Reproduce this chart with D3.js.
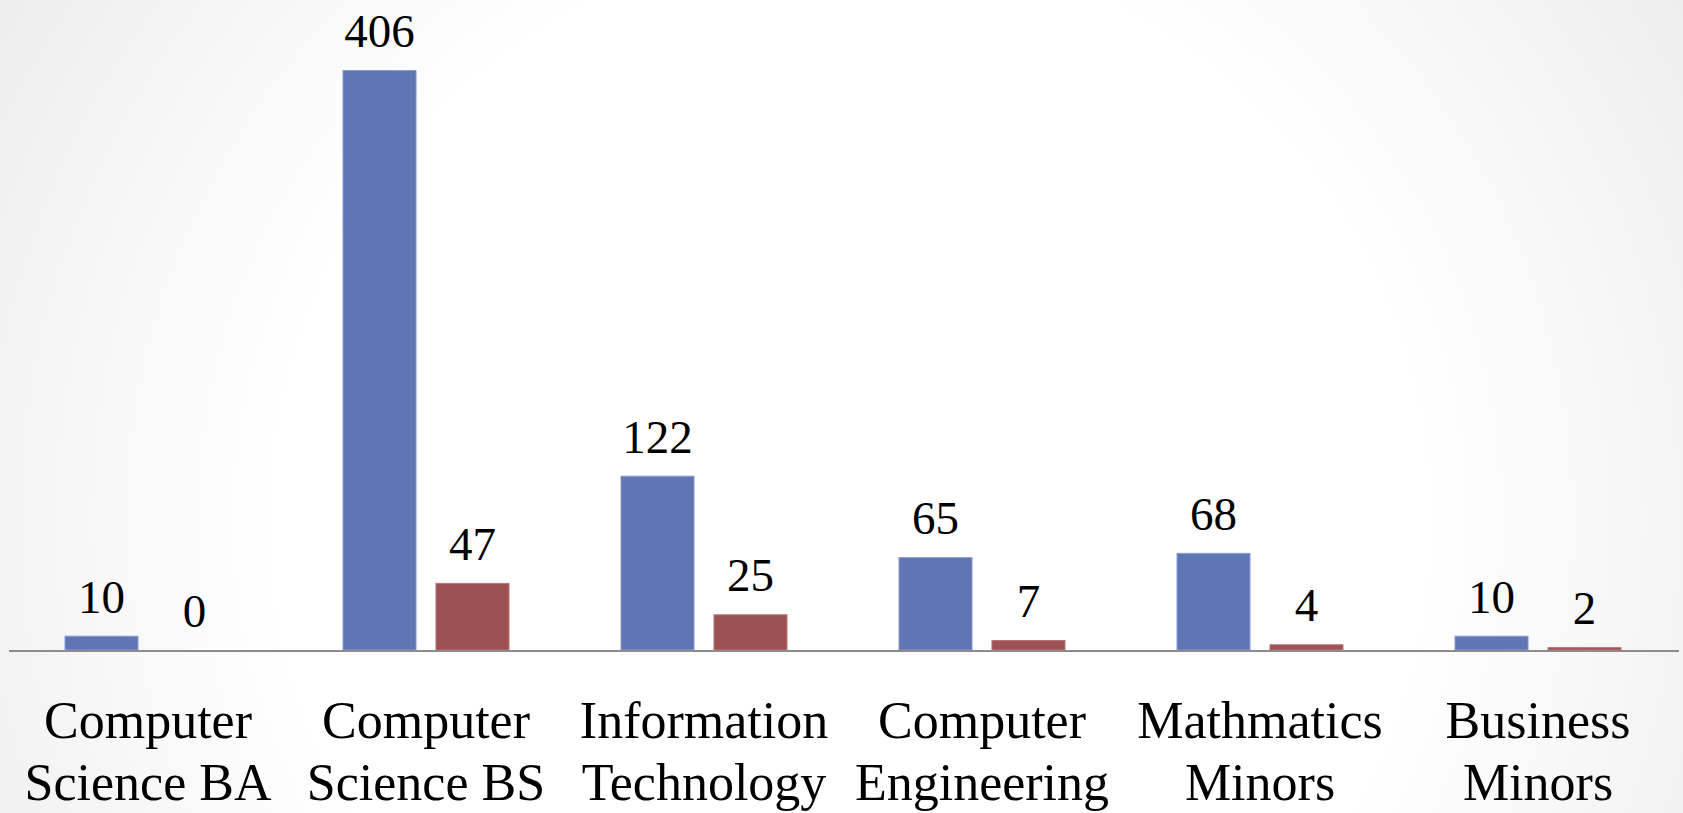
<!DOCTYPE html>
<html>
<head>
<meta charset="utf-8">
<script src="https://cdn.jsdelivr.net/npm/d3@7"></script>
<style>
	html, body { margin: 0; padding: 0; overflow: hidden; }
	svg { display: block; }
</style>
</head>
<body>
<div id="chart"></div>
<script>
// Grouped bar chart, 1683 x 813

const WIDTH = 1683;
const HEIGHT = 813;

const categories = [
	['Computer', 'Science BA'],
	['Computer', 'Science BS'],
	['Information', 'Technology'],
	['Computer', 'Engineering'],
	['Mathmatics', 'Minors'],
	['Business', 'Minors']
];
const seriesNames = ['Series 1', 'Series 2'];
const series1 = [10, 406, 122, 65, 68, 10];
const series2 = [0, 47, 25, 7, 4, 2];
const colors = ['#6076b4', '#9c5252'];
const strokes = ['#8a9bd0', '#b87474'];

const svg = d3.select('#chart')
	.append('svg')
	.attr('width', WIDTH)
	.attr('height', HEIGHT)
	.style('font-family', '"Liberation Serif", "DejaVu Serif", serif');

// background: soft radial gradient
const defs = svg.append('defs');
const grad = defs.append('radialGradient')
	.attr('id', 'bg')
	.attr('gradientUnits', 'userSpaceOnUse')
	.attr('cx', 850).attr('cy', 520).attr('r', 1050);
grad.append('stop').attr('offset', '0.55').attr('stop-color', '#ffffff');
grad.append('stop').attr('offset', '1').attr('stop-color', '#ebebeb');

svg.append('rect')
	.attr('width', WIDTH)
	.attr('height', HEIGHT)
	.attr('fill', 'url(#bg)');

const x0 = d3.scaleBand()
	.domain(d3.range(categories.length))
	.range([9, 1677]);

const x1 = d3.scaleBand()
	.domain(d3.range(seriesNames.length))
	.range([0, x0.bandwidth()])
	.paddingInner(0.204)
	.paddingOuter(0.597);

const y = d3.scaleLinear()
	.domain([0, 406])
	.range([650, 70]);

const rows = categories.map((c, i) => ({i, values: [series1[i], series2[i]]}));

const group = svg.selectAll('g.cat')
	.data(rows)
	.join('g')
	.attr('class', 'cat')
	.attr('transform', d => `translate(${x0(d.i)},0)`);

const bars = group.selectAll('g.bar')
	.data(d => d.values.map((v, s) => ({v, s})))
	.join('g')
	.attr('class', 'bar');

bars.filter(d => d.v > 0)
	.append('rect')
	.attr('x', d => x1(d.s) + 0.5)
	.attr('y', d => y(d.v) + 0.5)
	.attr('width', x1.bandwidth() - 1)
	.attr('height', d => Math.max(0, y(0) - y(d.v) - 0.5))
	.attr('fill', d => colors[d.s])
	.attr('stroke', d => strokes[d.s])
	.attr('stroke-width', 1);

// value labels
bars.append('text')
	.attr('x', d => x1(d.s) + x1.bandwidth() / 2)
	.attr('y', d => y(d.v) - 23)
	.attr('text-anchor', 'middle')
	.attr('fill', '#000')
	.style('font-size', '47px')
	.text(d => d.v);

// axis line
svg.append('line')
	.attr('x1', 9)
	.attr('x2', 1679)
	.attr('y1', y(0) + 1)
	.attr('y2', y(0) + 1)
	.attr('stroke', '#8c8c8c')
	.attr('stroke-width', 2);

// category labels
const labels = svg.selectAll('text.cat')
	.data(categories)
	.join('text')
	.attr('class', 'cat')
	.attr('text-anchor', 'middle')
	.attr('fill', '#000')
	.style('font-size', '52px');

labels.selectAll('tspan')
	.data(d => d)
	.join('tspan')
	.attr('x', function() {
		const i = categories.indexOf(d3.select(this.parentNode).datum());
		return x0(i) + x0.bandwidth() / 2;
	})
	.attr('y', (d, j) => 738 + j * 62)
	.text(d => d);
</script>
</body>
</html>
